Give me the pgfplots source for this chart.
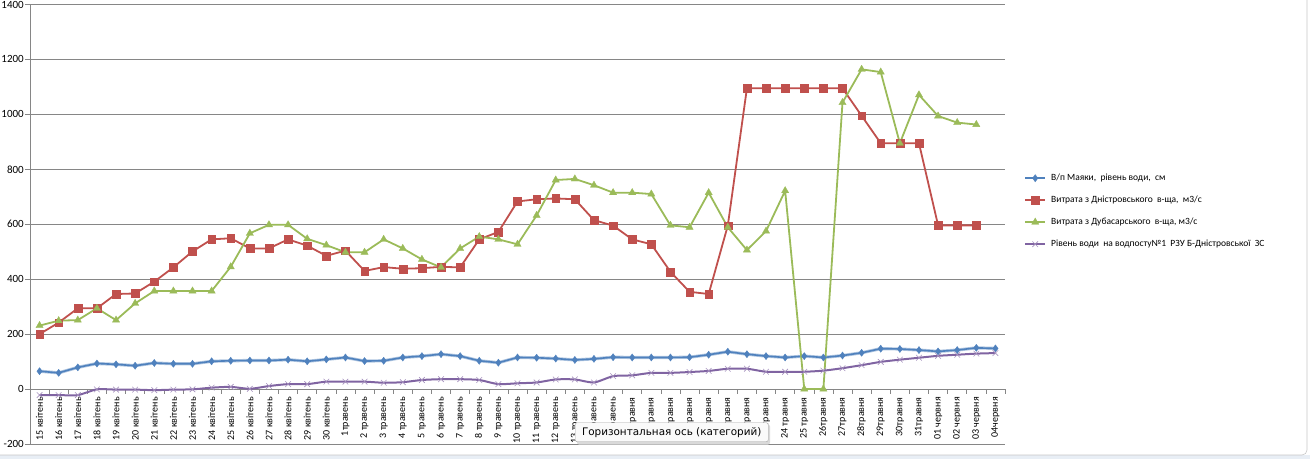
\documentclass[border=0pt]{standalone}
\usepackage{pgfplots}
\pgfplotsset{compat=1.18}
\usepackage{fontspec}
\setmainfont{Carlito}
\newfontfamily\tipfont{DejaVu Sans}
\definecolor{cblue}{HTML}{4F81BD}
\definecolor{cred}{HTML}{C0504D}
\definecolor{cgreen}{HTML}{9BBB59}
\definecolor{cpurp}{HTML}{8064A2}
\definecolor{cgrid}{HTML}{868686}
\definecolor{csheet}{HTML}{E8EEF5}
\begin{document}
\begin{tikzpicture}
\useasboundingbox (-30pt,-15pt) rectangle (1280pt,444pt);
\fill[csheet] (-30pt,-15pt) rectangle (1280pt,-11pt);
\begin{axis}[
  scale only axis, width=975pt, height=439.5pt,
  xmin=-0.5, xmax=50.5, ymin=-200, ymax=1400,
  axis x line=middle, axis y line=left,
  axis line style={-, draw=cgrid, line width=0.6pt},
  hide obscured x ticks=false, hide obscured y ticks=false,
  ytick={-200,0,...,1400},
  ymajorgrids, grid style={draw=cgrid, line width=0.6pt},
  y tick style={draw=cgrid, line width=0.6pt},
  tick align=outside, major tick length=5pt,
  x tick style={draw=none},
  xtick={0,...,50},
  xticklabels={15 квітень,16 квітень,17 квітень,18 квітень,19 квітень,20 квітень,21 квітень,22 квітень,23 квітень,24 квітень,25 квітень,26 квітень,27 квітень,28 квітень,29 квітень,30 квітень,1травень,2 травень,3 травень,4 травень,5 травень,6 травень,7 травень,8 травень,9 травень,10 травень,11 травень,12 травень,13 травень,14 травень,15 травень,16 травня,17 травня,18 травня,19 травня,20 травня,21 травня,22 травня,23 травня,24 травня,25 травня,26травня,27травня,28травня,29травня,30травня,31травня,01 червня,02 червня,03 червня,04червня},
  xticklabel style={rotate=90, anchor=east, font=\fontsize{10}{12}\selectfont, inner xsep=3pt},
  yticklabel style={font=\fontsize{11}{13}\selectfont, inner xsep=1pt},
  /pgf/number format/assume math mode=true,
  /pgf/number format/1000 sep={},
  legend cell align=left,
  legend style={draw=none, fill=none, at={(1.0195,0.6155)}, anchor=north west,
    font=\fontsize{9.5}{11}\selectfont, inner sep=0pt, row sep=13pt, column sep=5pt,
    nodes={inner sep=0pt, text height=7pt, text depth=2pt}},
  legend image code/.code={\draw[mark repeat=2,mark phase=2,#1] plot coordinates {(0pt,0pt)(10pt,0pt)(20pt,0pt)};},
  clip=false,
]
\pgfplotsinvokeforeach{-0.5,0.5,...,50.5}{\draw[cgrid, line width=0.6pt] (axis cs:#1,0) -- ++(0pt,-5pt);}
\addplot[draw=cblue!45, line width=3.2pt, forget plot] coordinates {
(0,65)(1,59)(2,79)(3,93)(4,90)(5,85)(6,95)(7,92)(8,92)(9,101)(10,103)(11,104)(12,104)(13,107)(14,101)(15,108)(16,115)(17,102)(18,103)(19,115)(20,120)(21,127)(22,120)(23,103)(24,96)(25,115)(26,114)(27,111)(28,106)(29,110)(30,116)(31,115)(32,115)(33,115)(34,116)(35,125)(36,136)(37,127)(38,120)(39,115)(40,120)(41,115)(42,122)(43,132)(44,147)(45,146)(46,142)(47,137)(48,142)(49,150)(50,148)};
\addplot[cblue, line width=1.6pt, mark=diamond*, mark size=3.6pt, mark options={solid, line width=0.3pt, fill=cblue}] coordinates {
(0,65)(1,59)(2,79)(3,93)(4,90)(5,85)(6,95)(7,92)(8,92)(9,101)(10,103)(11,104)(12,104)(13,107)(14,101)(15,108)(16,115)(17,102)(18,103)(19,115)(20,120)(21,127)(22,120)(23,103)(24,96)(25,115)(26,114)(27,111)(28,106)(29,110)(30,116)(31,115)(32,115)(33,115)(34,116)(35,125)(36,136)(37,127)(38,120)(39,115)(40,120)(41,115)(42,122)(43,132)(44,147)(45,146)(46,142)(47,137)(48,142)(49,150)(50,148)};
\addlegendentry{В/п Маяки,~ рівень води,~ см}
\addplot[cred, line width=1.8pt, mark=square*, mark size=3.9pt, mark options={solid, line width=0.3pt, fill=cred}] coordinates {
(0,200)(1,242)(2,294)(3,294)(4,346)(5,348)(6,391)(7,443)(8,501)(9,545)(10,549)(11,512)(12,512)(13,545)(14,522)(15,485)(16,504)(17,430)(18,444)(19,438)(20,440)(21,445)(22,443)(23,545)(24,572)(25,683)(26,691)(27,694)(28,691)(29,615)(30,595)(31,545)(32,527)(33,427)(34,354)(35,346)(36,595)(37,1095)(38,1095)(39,1095)(40,1095)(41,1095)(42,1095)(43,995)(44,895)(45,895)(46,895)(47,596)(48,596)(49,596)};
\addlegendentry{Витрата з Дністровського~ в-ща,~ м3/с}
\addplot[cgreen, line width=1.8pt, mark=triangle*, mark size=4.2pt, mark options={solid, line width=0.3pt, fill=cgreen}] coordinates {
(0,231)(1,249)(2,251)(3,294)(4,251)(5,312)(6,357)(7,357)(8,357)(9,357)(10,445)(11,567)(12,598)(13,598)(14,547)(15,524)(16,498)(17,498)(18,545)(19,512)(20,472)(21,443)(22,512)(23,555)(24,545)(25,527)(26,632)(27,761)(28,765)(29,742)(30,715)(31,715)(32,710)(33,596)(34,589)(35,715)(36,589)(37,506)(38,575)(39,722)(40,0)(41,0)(42,1043)(43,1164)(44,1154)(45,895)(46,1071)(47,994)(48,970)(49,963)};
\addlegendentry{Витрата з Дубасарського~ в-ща, м3/с}
\addplot[draw=cpurp, line width=2pt, smooth, tension=0.4, mark=x, mark size=4pt, mark options={solid, line width=0.6pt, draw=cpurp!70}] coordinates {
(0,-22)(1,-22)(2,-22)(3,-1)(4,-2)(5,-2)(6,-4)(7,-2)(8,-1)(9,5)(10,8)(11,1)(12,11)(13,18)(14,18)(15,27)(16,27)(17,27)(18,23)(19,25)(20,33)(21,36)(22,36)(23,33)(24,18)(25,21)(26,24)(27,35)(28,35)(29,24)(30,47)(31,50)(32,59)(33,59)(34,62)(35,66)(36,74)(37,74)(38,63)(39,63)(40,63)(41,67)(42,76)(43,87)(44,99)(45,107)(46,114)(47,121)(48,125)(49,129)(50,131)};
\addlegendentry{Рівень води~ на водпосту№1~ РЗУ Б-Дністровської~ ЗС}
\end{axis}
\draw[gray!45, line width=0.6pt, rounded corners=5pt] (-31pt,-11pt) -- (1277pt,-11pt) -- (1277pt,450pt);
\fill[gray!30, rounded corners=2pt] (547pt,-0.5pt) rectangle (740pt,19.5pt);
\node[draw=gray!70, fill=gray!4, rounded corners=2pt, anchor=north west, inner xsep=3pt, inner ysep=0pt,
  minimum width=193pt, minimum height=19pt, font=\tipfont\fontsize{10.4}{12}\selectfont] at (545pt,21.5pt) {Горизонтальная ось (категорий)};
\end{tikzpicture}
\end{document}
